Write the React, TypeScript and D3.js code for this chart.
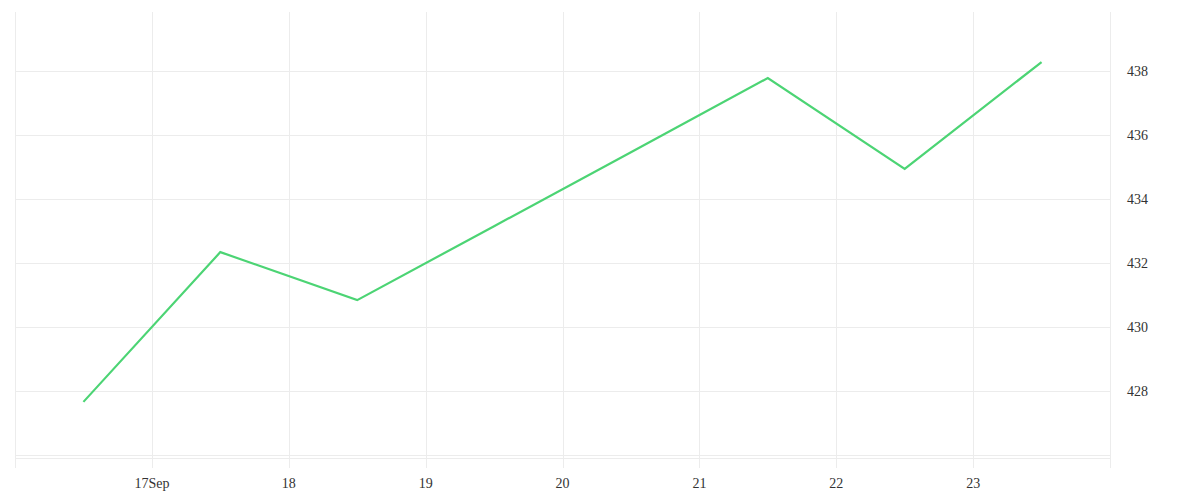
import React, { useEffect, useRef } from 'react';
import * as d3 from 'd3';

// daily closes, plotted at noon of each day
const days = ['2023-09-16', '2023-09-17', '2023-09-18', '2023-09-19', '2023-09-20', '2023-09-21', '2023-09-22', '2023-09-23'];
const closes = [427.66, 432.34, 430.84, 433.15, 435.46, 437.78, 434.94, 438.28];
const yTicks = [426, 428, 430, 432, 434, 436, 438];
const xTickDays = ['2023-09-17', '2023-09-18', '2023-09-19', '2023-09-20', '2023-09-21', '2023-09-22', '2023-09-23'];
const xTickLabels = ['17Sep', '18', '19', '20', '21', '22', '23'];

const W = 1184;
const H = 484;

const App: React.FC = () => {
  const svgRef = useRef<SVGSVGElement>(null);

  useEffect(() => {
    if (!svgRef.current) return;
    const svg = d3.select(svgRef.current);
    svg.selectAll('*').remove();

    const left = 7;
    const right = 1102;
    const top = 4;
    const bottom = 451;

    const parse = d3.timeParse('%Y-%m-%d');
    const noon = (s: string) => d3.timeHour.offset(parse(s)!, 12);

    const x = d3
      .scaleTime()
      .domain([parse('2023-09-16')!, parse('2023-09-24')!])
      .range([left, right]);
    const y = d3.scaleLinear().domain([428, 438]).range([383, 63]);

    const grid = svg.append('g').attr('stroke', '#ececec').attr('stroke-width', 1);

    // horizontal grid
    yTicks.forEach((t) => {
      grid
        .append('line')
        .attr('x1', left)
        .attr('x2', right)
        .attr('y1', Math.round(y(t)) + 0.5)
        .attr('y2', Math.round(y(t)) + 0.5);
    });
    // bottom domain line
    grid.append('line').attr('x1', left).attr('x2', right).attr('y1', bottom - 0.5).attr('y2', bottom - 0.5);

    // vertical grid: edges + day ticks
    const vx = [parse('2023-09-16')!, ...xTickDays.map((d) => parse(d)!), parse('2023-09-24')!];
    vx.forEach((d) => {
      grid
        .append('line')
        .attr('x1', Math.round(x(d)) + 0.5)
        .attr('x2', Math.round(x(d)) + 0.5)
        .attr('y1', top)
        .attr('y2', bottom + 9);
    });

    // y labels
    yTicks
      .filter((t) => t >= 428)
      .forEach((t) => {
        svg
          .append('text')
          .attr('x', right + 17)
          .attr('y', y(t))
          .attr('dy', '0.35em')
          .attr('font-size', '14px')
          .attr('fill', '#333')
          .text(String(t));
      });

    // x labels
    xTickDays.forEach((d, i) => {
      svg
        .append('text')
        .attr('x', x(parse(d)!))
        .attr('y', 475)
        .attr('dy', '0.35em')
        .attr('text-anchor', 'middle')
        .attr('font-size', '14px')
        .attr('fill', '#333')
        .text(xTickLabels[i]);
    });

    const data = days.map((d, i) => ({ date: noon(d), close: closes[i] }));
    const line = d3
      .line<{ date: Date; close: number }>()
      .x((d) => x(d.date))
      .y((d) => y(d.close));

    svg
      .append('path')
      .datum(data)
      .attr('d', line)
      .attr('fill', 'none')
      .attr('stroke', '#4cd474')
      .attr('stroke-width', 2.2);
  }, []);

  return <svg ref={svgRef} width={W} height={H} style={{ display: 'block' }} />;
};

export default App;
